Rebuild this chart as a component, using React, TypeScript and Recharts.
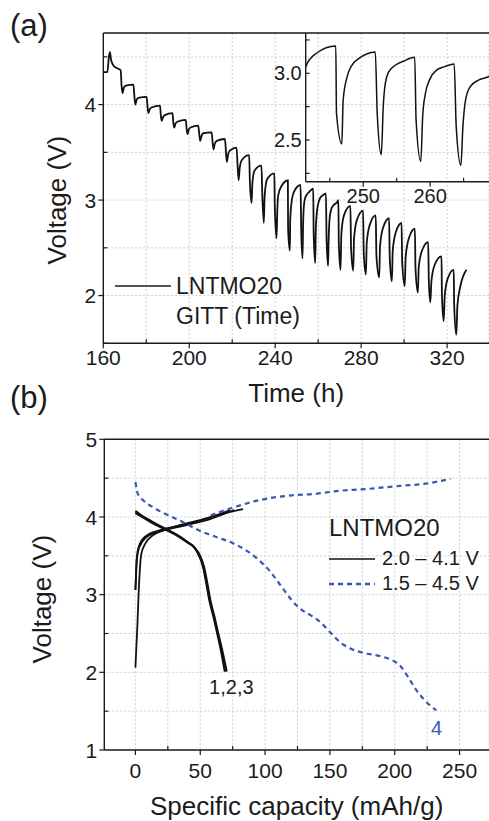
import { LineChart, Line, XAxis, YAxis, CartesianGrid, Legend, ReferenceLine, ReferenceDot } from 'recharts';

const FONT = '"Liberation Sans", Arial, Helvetica, sans-serif';
const INK = '#1b1b1b';
const BLUE = '#3d56b5';
const GRID = '#cfcfcf';

// (a) GITT discharge: time (h) / voltage (V), one pulse per row
const gittTime = [
  160, 161.9, 162.6, 163.1, 163.6, 164.7, 166.5, 168.1,
  168.5, 169.0, 169.6, 170.5, 174.0,
  174.5, 174.9, 175.5, 176.3, 180.2,
  180.6, 181.0, 181.6, 182.4, 186.4,
  186.8, 187.2, 187.8, 188.6, 192.2,
  192.6, 193.0, 193.6, 194.4, 198.4,
  198.8, 199.2, 199.8, 200.6, 204.2,
  204.7, 205.1, 205.7, 206.5, 210.4,
  210.9, 211.3, 211.9, 212.8, 216.6,
  217.1, 217.5, 218.1, 219.0, 222.0,
  222.5, 223.0, 223.5, 224.5, 227.9,
  228.2, 229.0, 229.4, 230.4, 233.6,
  234.0, 234.7, 235.1, 236.3, 239.6,
  239.8, 240.6, 241.0, 241.4, 243.0, 245.9,
  246.0, 246.8, 247.0, 247.6, 248.3, 249.3, 250.5, 251.8,
  252.1, 252.7, 253.0, 253.3, 253.8, 254.8, 256.0, 257.7,
  257.9, 258.6, 258.9, 259.3, 260.0, 261.0, 262.2, 263.6,
  263.9, 264.6, 264.9, 265.3, 266.0, 267.3, 268.9, 269.4,
  269.6, 270.4, 270.8, 272.0, 275.0,
  275.3, 276.3, 276.7, 278.0, 280.9,
  281.2, 282.2, 282.6, 284.0, 286.8,
  287.1, 288.4, 288.8, 290.2, 293.0,
  293.3, 294.3, 294.7, 296.1, 298.8,
  299.1, 300.3, 300.7, 302.2, 305.0,
  305.3, 306.4, 306.8, 308.3, 311.2,
  311.5, 312.2, 312.7, 314.2, 317.4,
  317.6, 318.4, 318.9, 320.3, 323.1,
  323.3, 324.3, 324.8, 326.2, 329.0,
];
const gittVolt = [
  4.34, 4.34, 4.5, 4.55, 4.47, 4.41, 4.38, 4.36,
  4.2, 4.12, 4.18, 4.2, 4.21,
  4.08, 4.0, 4.05, 4.07, 4.08,
  3.97, 3.91, 3.95, 3.97, 3.99,
  3.88, 3.83, 3.87, 3.89, 3.91,
  3.81, 3.76, 3.8, 3.82, 3.84,
  3.74, 3.69, 3.74, 3.76, 3.78,
  3.68, 3.62, 3.67, 3.7, 3.71,
  3.6, 3.53, 3.59, 3.62, 3.64,
  3.5, 3.4, 3.48, 3.52, 3.55,
  3.36, 3.21, 3.34, 3.42, 3.47,
  3.2, 2.97, 3.18, 3.31, 3.36,
  3.05, 2.76, 3.05, 3.22, 3.28,
  2.95, 2.6, 2.9, 3.05, 3.15, 3.205,
  2.7, 2.47, 2.8, 2.975, 3.06, 3.11, 3.145, 3.16,
  2.69, 2.39, 2.76, 2.925, 3.01, 3.06, 3.09, 3.12,
  2.65, 2.34, 2.69, 2.85, 2.96, 3.025, 3.05, 3.07,
  2.6, 2.31, 2.6, 2.8, 2.9, 2.95, 2.98, 3.0,
  2.55, 2.27, 2.65, 2.84, 2.94,
  2.5, 2.26, 2.6, 2.79, 2.89,
  2.45, 2.22, 2.55, 2.74, 2.84,
  2.42, 2.19, 2.52, 2.71, 2.81,
  2.4, 2.15, 2.47, 2.66, 2.76,
  2.35, 2.1, 2.4, 2.6, 2.7,
  2.28, 2.03, 2.3, 2.47, 2.56,
  2.15, 1.93, 2.15, 2.32, 2.41,
  2.0, 1.73, 2.0, 2.18, 2.27,
  1.9, 1.59, 1.9, 2.1, 2.27,
];
const gittData = gittTime.map((t, i) => ({ t, v: gittVolt[i] }));

const timeTicks = [160, 180, 200, 220, 240, 260, 280, 300, 320];
const timeMajor = [160, 200, 240, 280, 320];
const voltTicksA = [1.5, 2, 2.5, 3, 3.5, 4, 4.5];
const voltMajorA = [2, 3, 4];
const insetTimeTicks = [245, 250, 255, 260, 265];
const insetTimeMajor = [250, 260];
const insetVoltTicks = [2.25, 2.5, 2.75, 3, 3.25];
const insetVoltMajor = [2.5, 3];

// (b) specific capacity (mAh/g) / voltage (V)
const dis1Cap = [0, 4, 12, 24, 32, 40, 46, 50, 53, 55.5, 58, 61, 64, 67.5, 70.5];
const dis1Volt = [4.08, 4.03, 3.95, 3.84, 3.77, 3.68, 3.6, 3.5, 3.36, 3.15, 2.92, 2.72, 2.5, 2.25, 2.01];
const dis2Cap = [0, 4, 12, 24, 32, 40, 46, 49.5, 52.5, 55, 57.5, 60.5, 63.5, 66.8, 69.5];
const dis2Volt = [4.06, 4.02, 3.94, 3.84, 3.77, 3.68, 3.6, 3.5, 3.36, 3.15, 2.92, 2.72, 2.5, 2.25, 2.01];
const dis3Cap = [0, 4, 12, 24, 32, 40, 45.5, 49, 52, 54.5, 57, 60, 63, 66.2, 68.8];
const dis3Volt = [4.05, 4.01, 3.93, 3.83, 3.76, 3.67, 3.6, 3.5, 3.36, 3.15, 2.92, 2.72, 2.5, 2.25, 2.01];
const chg1Cap = [0, 1.5, 3, 4.5, 7.7, 14, 24, 35, 50, 65, 83];
const chg1Volt = [2.06, 2.6, 3.2, 3.52, 3.66, 3.77, 3.84, 3.9, 3.96, 4.03, 4.1];
const chg2Cap = [0, 0.5, 0.9, 2.6, 7.7, 19, 37, 55, 73];
const chg2Volt = [3.06, 3.3, 3.45, 3.62, 3.75, 3.83, 3.9, 3.98, 4.09];
const chg3Cap = [0, 0.6, 1.1, 3, 8.5, 20, 38, 57, 76];
const chg3Volt = [3.06, 3.28, 3.44, 3.61, 3.74, 3.82, 3.89, 3.97, 4.09];
const blueDisCap = [0, 1.8, 6.4, 14.1, 24.4, 37.2, 50, 62.8, 75.6, 87.2, 94.9, 103.8, 112.8, 120.5, 126.9, 134.6, 142.3, 150, 157.7, 165.4, 175.6, 188.5, 198.7, 203.8, 210.3, 216.7, 223.1, 232];
const blueDisVolt = [4.45, 4.3, 4.21, 4.12, 4.03, 3.93, 3.82, 3.74, 3.66, 3.55, 3.45, 3.3, 3.1, 2.93, 2.82, 2.74, 2.65, 2.52, 2.39, 2.31, 2.25, 2.21, 2.15, 2.09, 1.94, 1.77, 1.64, 1.51];
const blueChgCap = [58, 73, 83, 94, 106, 122, 140, 153, 178, 204, 224, 243];
const blueChgVolt = [4.02, 4.11, 4.16, 4.21, 4.25, 4.28, 4.3, 4.33, 4.36, 4.4, 4.43, 4.49];

const capTicks = [0, 25, 50, 75, 100, 125, 150, 175, 200, 225, 250];
const capMajor = [0, 50, 100, 150, 200, 250];
const voltTicksB = [1, 1.5, 2, 2.5, 3, 3.5, 4, 4.5, 5];
const voltMajorB = [1, 2, 3, 4, 5];
const rangeNames = ['2.0 – 4.1 V', '1.5 – 4.5 V'];

const zip = (c: number[], v: number[]) => c.map((x, i) => ({ c: x, v: v[i] }));

const bottomTick = (majors: number[], gap: number, size: number, fmt = (v: number) => String(v)) => (p: any) => {
  const v = p.payload.value;
  const major = majors.includes(v);
  return (
    <g>
      <line x1={p.x} x2={p.x} y1={p.y} y2={major ? p.y + 5 : p.y - 4} stroke={INK} strokeWidth={1.2} />
      {major && (
        <text x={p.x} y={p.y + gap} textAnchor="middle" fontSize={size} fontFamily={FONT} fill={INK}>
          {fmt(v)}
        </text>
      )}
    </g>
  );
};

const leftTick = (majors: number[], gap: number, size: number, inward = false, fmt = (v: number) => String(v)) => (p: any) => {
  const v = p.payload.value;
  const major = majors.includes(v);
  const len = major && !inward ? -5 : 4;
  return (
    <g>
      <line x1={p.x} x2={p.x + len} y1={p.y} y2={p.y} stroke={INK} strokeWidth={1.2} />
      {major && (
        <text x={p.x - gap} y={p.y} dy="0.36em" textAnchor="end" fontSize={size} fontFamily={FONT} fill={INK}>
          {fmt(v)}
        </text>
      )}
    </g>
  );
};

const xTitle = (text: string, base: number) => (p: any) => {
  const vb = p.viewBox;
  return (
    <text x={vb.x + vb.width / 2} y={vb.y + base} textAnchor="middle" fontSize={26} fontFamily={FONT} fill={INK}>
      {text}
    </text>
  );
};

const yTitle = (text: string, cx: number, shift: number) => (p: any) => {
  const vb = p.viewBox;
  const cy = vb.y + vb.height / 2 + shift;
  return (
    <text x={cx} y={cy} dy="0.36em" transform={`rotate(-90 ${cx} ${cy})`} textAnchor="middle" fontSize={26} fontFamily={FONT} fill={INK}>
      {text}
    </text>
  );
};

const legendA = (props: any) => {
  const item = (props.payload || []).find((e: any) => e.value === 'LNTMO20');
  return (
    <div style={{ fontFamily: FONT, fontSize: 23, color: INK, lineHeight: '30px', whiteSpace: 'nowrap' }}>
      <div style={{ display: 'flex', alignItems: 'center' }}>
        <svg width={56} height={4}>
          <line x1={0} x2={56} y1={2} y2={2} stroke={INK} strokeWidth={1.6} />
        </svg>
        <span style={{ marginLeft: 5 }}>{item?.value ?? 'LNTMO20'}</span>
      </div>
      <div style={{ marginLeft: 61 }}>GITT (Time)</div>
    </div>
  );
};

const legendB = (props: any) => {
  const entries = rangeNames
    .map((n) => (props.payload || []).find((e: any) => e.value === n))
    .filter(Boolean);
  return (
    <div style={{ fontFamily: FONT, color: INK, whiteSpace: 'nowrap' }}>
      <div style={{ fontSize: 24, lineHeight: '36px' }}>LNTMO20</div>
      {entries.map((e: any) => {
        const dash = e.payload?.strokeDasharray;
        return (
          <div key={e.value} style={{ display: 'flex', alignItems: 'center', fontSize: 20, lineHeight: '25px' }}>
            <svg width={46} height={4}>
              <line x1={0} x2={46} y1={2} y2={2} stroke={e.color} strokeWidth={dash ? 2.4 : 1.6} strokeDasharray={dash} />
            </svg>
            <span style={{ marginLeft: 7 }}>{e.value}</span>
          </div>
        );
      })}
    </div>
  );
};

const axisLine = { stroke: INK, strokeWidth: 1.4 };

function PanelA() {
  return (
    <LineChart width={489} height={420} data={gittData} margin={{ top: 33, right: 0, bottom: 36.7, left: 0 }}>
      <CartesianGrid stroke={GRID} strokeDasharray="2 2" />
      <XAxis type="number" dataKey="t" domain={[160, 339.5]} allowDataOverflow ticks={timeTicks} interval={0}
        height={40} tickSize={0} tickMargin={0} axisLine={axisLine} tick={bottomTick(timeMajor, 21.7, 21)}
        label={xTitle('Time (h)', 58.4)} />
      <YAxis type="number" domain={[1.5, 4.75]} allowDataOverflow ticks={voltTicksA} interval={0}
        width={103.3} tickSize={0} tickMargin={0} axisLine={axisLine} tick={leftTick(voltMajorA, 7, 21)}
        label={yTitle('Voltage (V)', 57, 12)} />
      <ReferenceLine y={4.75} stroke={INK} strokeWidth={1.4} ifOverflow="visible" />
      <Line type="monotone" dataKey="v" name="LNTMO20" stroke="#111" strokeWidth={1.8} dot={false} activeDot={false} isAnimationActive={false} />
      <Legend layout="vertical" verticalAlign="middle" align="center" wrapperStyle={{ left: 115, top: 271, width: 'auto' }} content={legendA} />
    </LineChart>
  );
}

function Inset() {
  return (
    <LineChart width={239} height={215} data={gittData} margin={{ top: 33, right: 0, bottom: 0, left: 0 }}>
      <XAxis type="number" dataKey="t" domain={[241.4, 268.8]} allowDataOverflow ticks={insetTimeTicks} interval={0}
        height={33.3} tickSize={0} tickMargin={0} axisLine={axisLine} tick={bottomTick(insetTimeMajor, 21.3, 20)} />
      <YAxis type="number" domain={[2.187, 3.302]} allowDataOverflow ticks={insetVoltTicks} interval={0}
        width={55.7} tickSize={0} tickMargin={0} axisLine={axisLine}
        tick={leftTick(insetVoltMajor, 4, 20, true, (v) => v.toFixed(1))} />
      <Line type="monotone" dataKey="v" stroke="#111" strokeWidth={1.5} dot={false} activeDot={false} isAnimationActive={false} />
    </LineChart>
  );
}

function PanelB() {
  const black = { type: 'monotone' as const, dataKey: 'v', stroke: '#111', strokeWidth: 1.8, dot: false, activeDot: false, isAnimationActive: false };
  const blue = { type: 'monotone' as const, dataKey: 'v', stroke: BLUE, strokeWidth: 2.2, strokeDasharray: '5 4', dot: false, activeDot: false, isAnimationActive: false };
  return (
    <LineChart width={489} height={421} margin={{ top: 39.3, right: 0, bottom: 31, left: 0 }}>
      <CartesianGrid stroke={GRID} strokeDasharray="2 2" />
      <XAxis type="number" dataKey="c" domain={[-24, 272.7]} allowDataOverflow ticks={capTicks} interval={0}
        height={40} tickSize={0} tickMargin={0} axisLine={axisLine} tick={bottomTick(capMajor, 28, 21)}
        label={xTitle('Specific capacity (mAh/g)', 65)} />
      <YAxis type="number" domain={[1, 5]} allowDataOverflow ticks={voltTicksB} interval={0}
        width={104.3} tickSize={0} tickMargin={0} axisLine={axisLine} tick={leftTick(voltMajorB, 7, 21)}
        label={yTitle('Voltage (V)', 42, 4.5)} />
      <ReferenceLine y={5} stroke={INK} strokeWidth={1.4} ifOverflow="visible" />
      <Line {...black} data={zip(dis1Cap, dis1Volt)} name={rangeNames[0]} />
      <Line {...black} data={zip(dis2Cap, dis2Volt)} legendType="none" />
      <Line {...black} data={zip(dis3Cap, dis3Volt)} legendType="none" />
      <Line {...black} data={zip(chg1Cap, chg1Volt)} legendType="none" />
      <Line {...black} data={zip(chg2Cap, chg2Volt)} legendType="none" />
      <Line {...black} data={zip(chg3Cap, chg3Volt)} legendType="none" />
      <Line {...blue} data={zip(blueDisCap, blueDisVolt)} name={rangeNames[1]} />
      <Line {...blue} data={zip(blueChgCap, blueChgVolt)} legendType="none" />
      <ReferenceDot x={74} y={1.81} r={0} fill="none" stroke="none"
        label={{ value: '1,2,3', position: 'center', fontSize: 20, fill: INK, fontFamily: FONT }} />
      <ReferenceDot x={232.3} y={1.29} r={0} fill="none" stroke="none"
        label={{ value: '4', position: 'center', fontSize: 20, fill: BLUE, fontFamily: FONT }} />
      <Legend layout="vertical" verticalAlign="middle" align="center" wrapperStyle={{ left: 329, top: 110, width: 'auto' }} content={legendB} />
    </LineChart>
  );
}

export default function App() {
  const panelLabel = { position: 'absolute' as const, left: 10, fontSize: 31, lineHeight: '31px', fontFamily: FONT, color: INK };
  return (
    <div style={{ position: 'absolute', left: 0, top: 0, width: 489, height: 821, overflow: 'hidden', background: '#fff' }}>
      <div style={{ position: 'absolute', left: 0, top: 0 }}>
        <PanelA />
      </div>
      <div style={{ position: 'absolute', left: 250, top: 0 }}>
        <Inset />
      </div>
      <div style={{ position: 'absolute', left: 0, top: 400 }}>
        <PanelB />
      </div>
      <div style={{ ...panelLabel, top: 10 }}>(a)</div>
      <div style={{ ...panelLabel, top: 382 }}>(b)</div>
    </div>
  );
}
